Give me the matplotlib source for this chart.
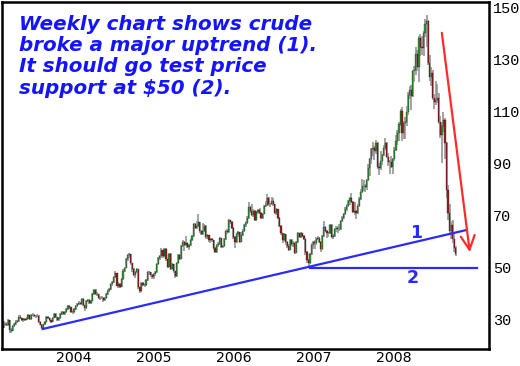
import matplotlib
matplotlib.use("Agg")
import matplotlib.pyplot as plt
import matplotlib.dates as mdates
import numpy as np
import pandas as pd
from datetime import datetime

# weekly crude bars (close, high, low), week ending Friday, first week 2003-03-21
first_open = 36.5
w2003 = [(27.0, 37.8, 26.5), (28.6, 29.4, 26.8), (28.6, 29.3, 27.6), (28.1, 29.0, 27.5),
         (29.8, 30.2, 27.8), (26.3, 29.9, 25.1), (25.8, 26.9, 25.1), (27.5, 27.9, 25.6),
         (28.5, 28.9, 27.2), (29.3, 29.8, 28.2), (29.6, 30.1, 28.9), (31.3, 31.7, 29.3),
         (30.7, 31.8, 30.2), (29.8, 30.9, 29.4), (30.2, 30.6, 29.3), (30.1, 30.6, 29.7),
         (30.5, 31.0, 29.8), (31.9, 32.3, 30.3), (30.3, 32.0, 30.0), (32.0, 32.4, 30.1),
         (32.0, 32.6, 31.4), (31.5, 32.3, 31.0), (31.6, 32.0, 30.9), (31.6, 32.1, 31.0),
         (29.3, 31.8, 28.9), (28.2, 29.5, 27.9), (26.9, 28.3, 26.5), (28.3, 28.6, 26.7),
         (29.3, 29.7, 28.0), (31.1, 31.5, 29.1), (30.7, 31.5, 30.2), (29.9, 30.8, 29.4),
         (29.1, 30.1, 28.7), (30.9, 31.2, 29.0), (32.4, 32.8, 30.7), (31.0, 32.6, 30.6),
         (29.8, 31.2, 29.4), (30.6, 31.0, 29.5), (32.1, 32.5, 30.4), (33.2, 33.6, 31.9),
         (32.2, 33.4, 31.8)]
w2004 = [(33.0, 33.4, 31.9), (34.3, 34.7, 32.8), (35.3, 35.6, 33.9), (34.8, 35.7, 34.3),
         (33.0, 35.0, 32.6), (33.0, 33.6, 32.4), (34.0, 34.4, 32.7), (35.3, 35.8, 33.7),
         (36.2, 36.6, 35.0), (36.6, 37.1, 35.8), (36.2, 37.0, 35.7), (38.1, 38.5, 35.9),
         (35.7, 38.3, 35.3), (34.4, 35.9, 33.6), (37.1, 37.5, 34.2), (37.7, 38.2, 36.8),
         (36.5, 37.9, 36.1), (37.4, 37.8, 36.0), (39.9, 40.3, 37.1), (41.4, 41.9, 39.6),
         (39.9, 41.9, 39.5), (39.9, 40.6, 39.0), (38.5, 40.1, 38.0), (38.5, 39.0, 37.5),
         (38.6, 39.2, 37.9), (37.6, 38.9, 36.9), (38.4, 38.8, 37.2), (39.9, 40.3, 38.2),
         (41.3, 41.7, 39.6), (41.7, 42.1, 40.6), (43.8, 44.2, 41.4), (44.4, 44.9, 43.2),
         (46.6, 47.0, 44.2), (47.9, 48.7, 46.3), (43.2, 48.1, 42.9), (43.9, 44.4, 42.4),
         (42.8, 44.1, 42.3), (45.6, 46.0, 42.6), (48.9, 49.4, 45.3), (50.1, 50.5, 48.4),
         (53.3, 53.8, 49.8), (54.9, 55.3, 52.7), (55.2, 55.7, 53.8), (51.8, 55.4, 51.3),
         (49.6, 51.9, 48.6), (47.3, 49.8, 46.8), (48.4, 48.9, 46.3), (49.4, 49.8, 47.9),
         (42.5, 49.5, 42.0), (41.0, 42.8, 40.3), (44.2, 44.7, 40.8), (43.5, 44.6, 42.9),
         (43.4, 43.9, 42.5)]
w2005 = [(45.4, 45.9, 42.9), (48.4, 48.8, 45.0), (48.3, 48.9, 47.2), (47.2, 48.5, 46.6),
         (46.5, 47.5, 45.9), (47.5, 47.9, 45.6), (48.4, 48.9, 47.0), (51.5, 52.0, 48.1),
         (53.8, 54.3, 51.0), (54.4, 55.0, 53.2), (56.7, 57.5, 54.0), (54.6, 56.9, 53.9),
         (57.3, 57.8, 54.1), (53.3, 57.6, 52.8), (50.5, 53.6, 49.8), (55.4, 55.8, 50.2),
         (49.7, 55.6, 49.2), (51.4, 51.9, 49.4), (48.7, 51.6, 48.1), (46.8, 49.0, 46.2),
         (51.9, 52.4, 46.6), (55.0, 55.5, 51.5), (53.5, 55.3, 52.9), (58.5, 59.0, 53.3),
         (59.8, 60.9, 58.1), (58.8, 60.2, 56.5), (59.6, 62.1, 58.3), (58.1, 60.0, 57.6),
         (58.7, 59.3, 56.7), (60.6, 61.0, 58.3), (62.3, 62.8, 60.3), (66.9, 67.4, 62.0),
         (65.4, 67.1, 64.9), (66.1, 68.0, 64.9), (67.6, 70.9, 65.7), (64.1, 67.8, 63.6),
         (63.0, 64.5, 62.5), (64.2, 67.4, 62.6), (66.2, 66.8, 63.9), (61.8, 66.4, 61.3),
         (62.6, 63.2, 61.2), (60.6, 62.8, 60.1), (61.1, 61.6, 59.6), (60.6, 61.4, 59.8),
         (57.5, 60.9, 57.0), (56.1, 57.9, 55.6), (58.7, 59.1, 55.9), (59.3, 59.8, 57.9),
         (61.4, 61.8, 59.0), (58.1, 61.6, 57.6), (58.4, 58.9, 57.6), (61.0, 61.4, 58.2)]
w2006 = [(64.2, 64.7, 60.8), (63.9, 64.9, 63.2), (68.4, 68.9, 63.6), (67.8, 68.6, 66.9),
         (65.4, 68.1, 64.9), (61.8, 65.7, 61.2), (59.9, 62.2, 57.6), (62.9, 63.3, 59.5),
         (63.7, 64.2, 61.9), (60.0, 63.9, 59.5), (62.7, 63.7, 59.8), (64.3, 64.8, 62.3),
         (66.6, 67.0, 63.9), (67.4, 67.9, 65.8), (69.3, 69.8, 66.9), (73.6, 75.4, 69.0),
         (71.9, 73.9, 71.2), (70.2, 74.6, 69.8), (72.0, 72.5, 69.4), (68.5, 72.3, 67.9),
         (71.4, 71.8, 68.2), (72.3, 72.8, 70.9), (71.1, 73.0, 70.6), (69.2, 71.5, 68.8),
         (70.9, 71.3, 68.9), (73.9, 74.3, 70.6), (74.1, 75.6, 73.4), (77.0, 78.4, 73.8),
         (74.4, 77.3, 73.9), (74.5, 75.1, 73.4), (75.9, 77.1, 74.2), (74.4, 77.0, 73.9),
         (71.1, 74.6, 70.6), (72.5, 73.0, 70.4), (69.2, 72.8, 68.7), (66.3, 69.5, 65.8),
         (63.3, 66.6, 62.8), (60.6, 63.5, 59.5), (62.9, 63.4, 60.2), (59.8, 63.1, 58.9),
         (58.6, 60.2, 57.5), (57.0, 59.3, 56.6), (60.8, 61.3, 56.8), (59.1, 61.1, 58.6),
         (59.6, 60.3, 58.1), (55.8, 59.9, 55.3), (60.0, 60.4, 55.6), (63.4, 63.9, 59.6),
         (62.0, 63.6, 61.5), (63.4, 63.9, 61.6), (62.4, 63.6, 61.9), (61.1, 62.6, 60.6)]
w2007 = [(56.3, 61.3, 55.1), (53.0, 56.6, 51.9), (52.0, 53.6, 49.9), (55.4, 55.9, 51.6),
         (59.0, 59.4, 55.1), (59.9, 60.3, 57.3), (59.4, 60.6, 57.1), (61.1, 61.9, 58.9),
         (61.6, 62.3, 60.7), (60.0, 62.0, 59.5), (57.1, 60.3, 56.1), (62.3, 62.8, 57.0),
         (65.9, 68.1, 62.0), (64.3, 66.3, 63.8), (63.6, 64.6, 61.4), (63.4, 64.0, 62.0),
         (66.5, 67.0, 63.1), (61.9, 66.8, 61.4), (62.4, 62.9, 61.2), (64.9, 65.3, 62.0),
         (65.2, 66.1, 63.9), (65.1, 66.0, 63.5), (64.8, 66.9, 64.1), (68.0, 68.4, 64.5),
         (69.2, 69.9, 67.6), (70.7, 71.1, 68.8), (72.8, 73.3, 70.3), (73.9, 74.4, 71.8),
         (75.6, 76.0, 73.3), (77.0, 77.4, 74.1), (75.5, 78.8, 75.0), (71.5, 75.8, 71.0),
         (71.9, 75.3, 70.3), (71.1, 72.3, 69.0), (74.0, 74.5, 70.6), (76.7, 77.2, 73.5),
         (79.1, 80.4, 76.3), (81.6, 84.1, 78.8), (81.7, 83.9, 79.5), (81.2, 82.4, 79.1),
         (83.7, 84.1, 79.9), (88.6, 90.1, 83.3), (91.9, 92.2, 85.3), (95.9, 96.2, 90.0),
         (96.3, 98.6, 92.9), (95.1, 96.8, 91.5), (98.2, 99.3, 93.9), (88.7, 98.6, 88.1),
         (88.3, 90.5, 85.9), (91.3, 94.8, 87.8), (93.3, 93.8, 89.4), (96.0, 97.1, 92.9)]
w2008 = [(97.9, 100.1, 95.3), (92.7, 98.6, 92.2), (90.6, 94.3, 89.3), (90.7, 91.6, 86.1),
         (89.0, 93.1, 88.4), (91.8, 92.3, 86.1), (95.5, 96.7, 91.3), (98.8, 101.3, 95.0),
         (101.8, 103.1, 97.1), (105.2, 106.0, 98.9), (110.2, 111.0, 104.6), (101.8, 111.8, 98.7),
         (105.6, 106.5, 99.6), (106.2, 107.9, 99.5), (110.1, 112.2, 104.7), (116.7, 117.8, 108.8),
         (118.5, 119.9, 115.0), (116.3, 120.4, 110.6), (125.9, 126.2, 115.6), (126.3, 127.8, 121.6),
         (132.2, 135.1, 124.2), (127.4, 133.8, 125.6), (138.5, 139.1, 121.6), (134.9, 139.9, 131.5),
         (134.6, 139.4, 131.9), (140.2, 141.0, 131.4), (144.0, 145.9, 139.0), (145.1, 147.3, 135.1),
         (128.9, 145.2, 128.2), (123.3, 131.9, 121.9), (125.1, 127.2, 120.0), (115.2, 126.2, 114.6),
         (113.8, 117.0, 111.3), (114.6, 122.0, 112.7), (115.5, 120.7, 113.4), (106.2, 117.3, 105.4),
         (101.2, 108.6, 100.1), (104.6, 106.0, 90.5), (106.9, 110.0, 102.4), (98.0, 107.6, 92.0),
         (80.0, 98.5, 77.0), (71.0, 82.0, 68.6), (64.2, 74.5, 62.5), (66.5, 68.0, 61.0),
         (61.0, 68.5, 59.6), (57.5, 63.2, 56.2), (55.5, 58.5, 54.5)]

years = [2004, 2005, 2006, 2007, 2008]
yticks = [30, 50, 70, 90, 110, 130, 150]

title_lines = "Weekly chart shows crude\nbroke a major uptrend (1).\nIt should go test price\nsupport at $50 (2)."

bars = np.array(w2003 + w2004 + w2005 + w2006 + w2007 + w2008)
close, high, low = bars[:, 0], bars[:, 1], bars[:, 2]
opens = np.concatenate([[first_open], close[:-1]])
dates = pd.date_range("2003-03-21", periods=len(close), freq="W-FRI")
x = mdates.date2num(dates.to_pydatetime())

fig = plt.figure(figsize=(5.2, 3.66), dpi=100)
ax = fig.add_axes([0.003, 17 / 366, 487 / 520, 1 - 19 / 366])

up = close >= opens
ax.vlines(x, low, high, color="#8c8c8c", linewidth=1.1, zorder=1)
ax.bar(x[up], (close - opens)[up], bottom=opens[up], width=5.5, color="#319531",
       edgecolor="#1d3d1d", linewidth=0.25, zorder=2)
ax.bar(x[~up], (close - opens)[~up], bottom=opens[~up], width=5.5, color="#932222",
       edgecolor="#3a1414", linewidth=0.25, zorder=2)

d = mdates.date2num
ax.plot([d(datetime(2003, 9, 23)), d(datetime(2009, 1, 10))], [26.5, 64.6],
        color="#2a2aff", linewidth=1.6, zorder=3)
ax.plot([d(datetime(2007, 1, 24)), d(datetime(2009, 2, 24))], [50, 50],
        color="#2a2aff", linewidth=1.6, zorder=3)
ax.text(d(datetime(2008, 5, 22)), 63.6, "1", color="#2a2aff", fontsize=12.5,
        fontweight="bold", ha="center", va="center")
ax.text(d(datetime(2008, 5, 8)), 46.3, "2", color="#2a2aff", fontsize=12.5,
        fontweight="bold", ha="center", va="center")
ax.annotate("", xy=(d(datetime(2009, 1, 26)), 55), xytext=(d(datetime(2008, 9, 17)), 141.5),
            arrowprops=dict(arrowstyle="->,head_length=1.0,head_width=0.5",
                            color="#ff2a2a", linewidth=1.6))

ax.text(17 / 487, 1 - 13 / 347, title_lines, transform=ax.transAxes, color="#1414ff",
        fontsize=14.3, fontweight="bold", fontstyle="italic", va="top", ha="left",
        linespacing=1.15)

ax.set_xlim(d(datetime(2003, 3, 19)), d(datetime(2009, 4, 20)))
ax.set_ylim(18.8, 152.3)
ax.set_xticks([d(datetime(y, 2, 11)) for y in years])
ax.set_xticklabels([str(y) for y in years], fontsize=10.2)
ax.yaxis.tick_right()
ax.set_yticks(yticks)
ax.set_yticklabels([str(v) for v in yticks], family="Liberation Mono", fontsize=11)
ax.tick_params(axis="y", length=0, pad=3)
ax.tick_params(axis="x", length=0, pad=1.5)
for s in ax.spines.values():
    s.set_linewidth(1.8)

fig.savefig("out.png", dpi=100)
